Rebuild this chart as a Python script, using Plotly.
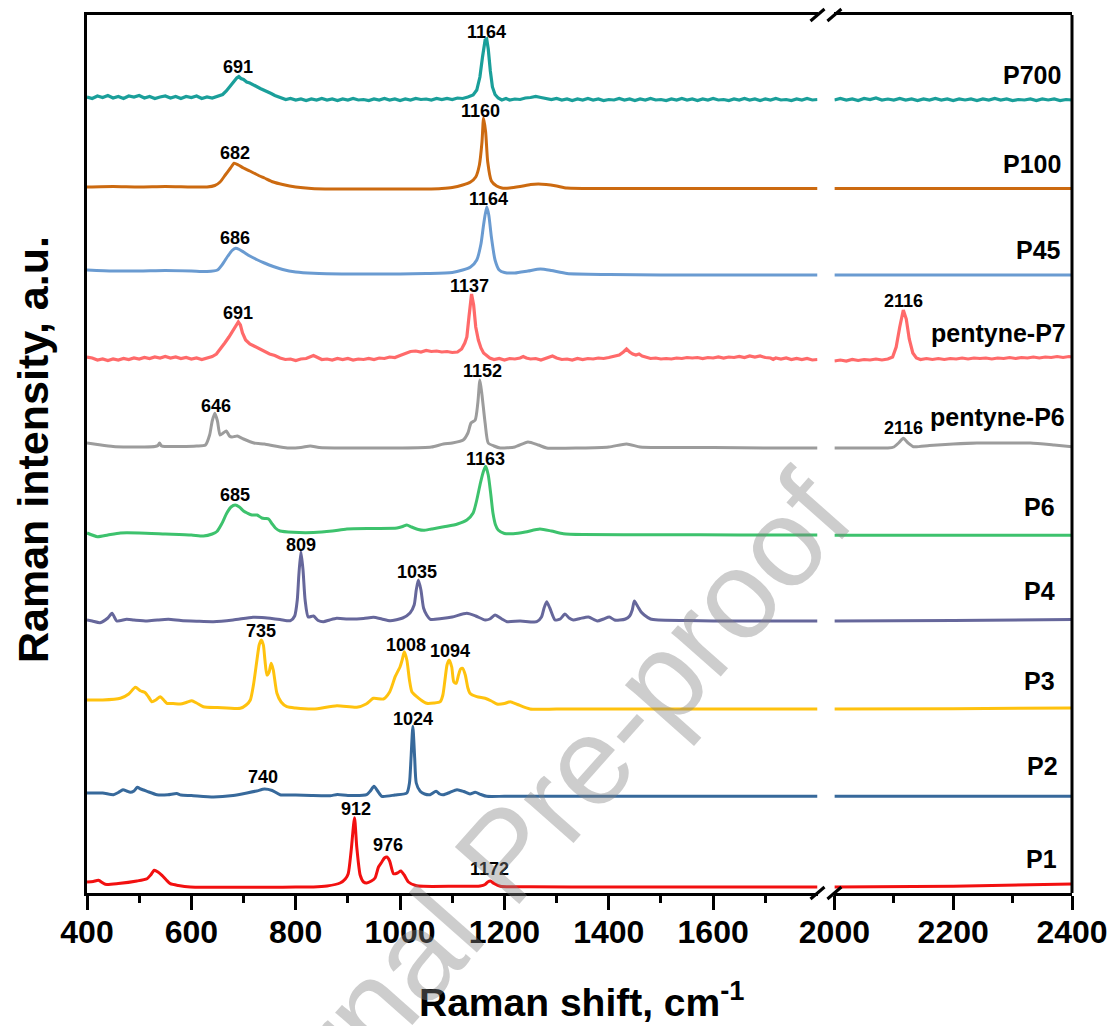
import plotly.graph_objects as go

# ---------------- data ----------------
series_names = ["P700", "P100", "P45", "pentyne-P7", "pentyne-P6", "P6", "P4", "P3", "P2", "P1"]
series_colors = ["#1A9F9A", "#CC6A10", "#6A9BD1", "#FF6A6A", "#9C9C9C", "#3DC26D", "#66679B", "#FFC20E", "#37699B", "#F21010"]
series_offsets = [796, 706, 623, 536, 450, 360, 273, 193, 100, 11]

p700_x = [400, 410, 420, 430, 440, 450, 460, 470, 480, 490, 500, 510, 520, 530, 540, 550, 560, 570, 580, 590,
          600, 610, 620, 630, 640, 650, 660, 667, 674, 681, 687, 691, 695, 700, 706, 712, 718, 725, 732, 739,
          746, 753, 760, 767, 774, 781, 790, 800, 810, 820, 830, 840, 850, 860, 870, 880, 890, 900, 910, 920,
          930, 940, 950, 960, 970, 980, 990, 1000, 1010, 1020, 1030, 1040, 1050, 1060, 1070, 1080, 1090, 1100, 1110, 1120,
          1130, 1140, 1147, 1153, 1158, 1163, 1166, 1169, 1173, 1177, 1182, 1188, 1195, 1203, 1210, 1220, 1230, 1240, 1250, 1260,
          1270, 1280, 1290, 1300, 1310, 1320, 1330, 1340, 1350, 1360, 1370, 1380, 1390, 1400, 1410, 1420, 1430, 1440, 1450, 1460,
          1470, 1480, 1490, 1500, 1510, 1520, 1530, 1540, 1550, 1560, 1570, 1580, 1590, 1600, 1610, 1620, 1630, 1640, 1650, 1660,
          1670, 1680, 1690, 1700, 1710, 1720, 1730, 1740, 1750, 1760, 1770, 1780, 1790, 1800,
          2000, 2010, 2020, 2030, 2040, 2050, 2060, 2070, 2080, 2090, 2100, 2110, 2120, 2130, 2140, 2150, 2160, 2170, 2180, 2190,
          2200, 2210, 2220, 2230, 2240, 2250, 2260, 2270, 2280, 2290, 2300, 2310, 2320, 2330, 2340, 2350, 2360, 2370, 2380, 2390, 2400]
p700_y = [0, -1.5, 1, -0.5, 1.5, -1, 0.5, -1.5, 1, 0, 1.5, -1, 0.5, -1.5, 0, 1, -1, 0.5, -1.5, 0.5,
          -0.5, 1, -1.5, 0, -1, 1, 2.5, 6, 11, 16, 19, 20.5, 18.5, 17.5, 15, 14, 12, 10.5, 8.5, 7,
          5, 3.5, 1.5, 0, -1, -2.5, -1.5, -3, -2, -3.5, -2, -3, -1.5, -3, -2, -3.5, -2, -3, -1.5, -3,
          -2.5, -3.5, -2, -3, -1.5, -3, -2, -3.5, -2, -3, -1.5, -2.5, -2, -3, -1.5, -2.5, -1.5, -2.5, -1, -1.5,
          0, 2, 7, 20, 40, 57, 58, 48, 26, 10, 2.5, -1, -3, -1.5, -3, -2, -2.5, -1, -0.5, 0.5,
          -0.5, -1.5, -2.5, -1.5, -3, -2, -3.5, -2, -3, -1.5, -3, -2, -3.5, -2.5, -3, -1.5, -3, -2, -3.5, -2,
          -3, -1.5, -3, -2.5, -3.5, -2, -3, -1.5, -3, -2, -3.5, -2, -3, -1.5, -3, -2.5, -3.5, -2, -3, -1.5,
          -3, -2, -3.5, -2, -3, -1.5, -3, -2.5, -3.5, -2, -3, -1.5, -3, -2.5,
          -3, -1.5, -3, -2, -3.5, -1.5, -2.5, -1, -3, -2, -3, -1.5, -3, -2, -3.5, -2, -3, -1.5, -3, -2,
          -3.5, -2, -3, -2, -3.5, -2, -3, -1.5, -3, -2, -3.5, -2.5, -3, -2, -3.5, -2, -3, -2, -3.5, -2.5, -3]

p100_x = [400, 450, 500, 550, 600, 630, 645, 655, 665, 675, 682, 690, 700, 712, 725, 740, 757, 775, 800, 830,
          870, 950, 1000, 1050, 1080, 1100, 1120, 1135, 1145, 1152, 1157, 1160, 1164, 1168, 1175, 1185, 1195, 1210, 1230, 1250,
          1265, 1280, 1300, 1320, 1400, 1500, 1600, 1700, 1800, 2000, 2100, 2200, 2300, 2400]
p100_y = [0, 0.5, 0, 0.5, 0, 0, 1.5, 5, 12, 19, 23.7, 22, 19, 16, 12.5, 9, 5, 2.5, 0, -1.5,
          -2, -2, -2, -2, -1.5, -0.5, 2, 5, 10, 22, 45, 69, 55, 25, 6, 1, -1, -1, 0.5, 2.5,
          3, 2.5, 1, -1, -1.5, -1.5, -1.5, -1.5, -1.5, -1.5, -1.5, -1.5, -1.5, -1.5]

p45_x = [400, 450, 500, 550, 600, 630, 650, 660, 670, 678, 685, 692, 700, 712, 725, 740, 757, 775, 800, 834,
         900, 1000, 1050, 1100, 1120, 1135, 1147, 1155, 1160, 1166, 1170, 1175, 1182, 1190, 1200, 1220, 1245, 1269, 1290, 1320,
         1400, 1500, 1600, 1700, 1800, 2000, 2100, 2200, 2300, 2400]
p45_y = [0, -1, -1, -0.5, -1, -1.5, 0, 6, 14, 19.5, 21.7, 20.5, 18, 14, 10.5, 7, 3.5, 0.5, -2, -3.3,
         -4, -4, -3.5, -2.5, 0, 3, 10, 26, 45, 63, 55, 33, 10, 0, -2.5, -3, -1, 1, -0.5, -3.5,
         -4.5, -5, -5, -5, -5, -5, -5, -5, -5, -5]

pentyne_p7_x = [400, 410, 420, 430, 440, 450, 460, 470, 480, 490, 500, 510, 520, 530, 540, 550, 560, 570, 580, 590,
                600, 610, 620, 630, 640, 648, 656, 664, 672, 680, 686, 690, 694, 698, 704, 712, 720, 730, 740, 750,
                760, 770, 780, 790, 800, 810, 820, 828, 834, 840, 850, 860, 870, 880, 890, 900, 910, 920, 930, 940,
                950, 960, 970, 980, 990, 1000, 1010, 1020, 1030, 1040, 1050, 1060, 1070, 1080, 1090, 1100, 1110, 1118, 1124, 1128,
                1132, 1137, 1141, 1145, 1150, 1155, 1160, 1166, 1172, 1180, 1190, 1200, 1210, 1220, 1230, 1236, 1242, 1250, 1260, 1270,
                1280, 1292, 1300, 1310, 1320, 1330, 1340, 1350, 1360, 1370, 1380, 1390, 1400, 1410, 1420, 1428, 1434, 1440, 1446, 1452,
                1458, 1464, 1472, 1480, 1490, 1500, 1510, 1520, 1530, 1540, 1550, 1560, 1570, 1580, 1590, 1600, 1610, 1620, 1630, 1640,
                1650, 1660, 1670, 1680, 1690, 1700, 1710, 1715, 1720, 1730, 1740, 1750, 1760, 1770, 1780, 1790, 1800,
                2000, 2010, 2020, 2030, 2040, 2050, 2060, 2070, 2080, 2090, 2098, 2104, 2110, 2116, 2121, 2126, 2132, 2138, 2145, 2155,
                2165, 2175, 2185, 2195, 2205, 2215, 2225, 2235, 2245, 2255, 2265, 2275, 2285, 2295, 2305, 2315, 2325, 2335, 2345, 2355,
                2365, 2375, 2385, 2395, 2400]
pentyne_p7_y = [0, -1, -3, -2, -3.5, -2, -3, -1.5, -2.5, -1, -2, -0.5, -1.5, 0, -1, 0.5, -1, 0, -1.5, -0.5,
                -2, -1, -2.5, -1, 0.5, 3, 8, 14, 20, 27, 33, 35, 32, 24, 17, 13, 11, 8.5, 6, 3,
                1.5, -1, -2.5, -2, -3.5, -2, -1.5, 0, 1.5, 0, -2.5, -2, -3, -1.5, -2.5, -1.5, -3, -2, -2.5, -1.5,
                -2.5, -1, -1.5, 0, -0.5, 1.5, 3.5, 5.5, 6, 5, 6.5, 5.5, 6, 5, 5.5, 4.5, 5, 8, 14, 20,
                40, 63, 52, 30, 17, 9, 4, 1, -1, -2.5, -1.5, -3, -1.5, -2, -1, 0.5, -1, -2, -1.5, -3,
                -1.5, 1, -1, -2.5, -2, -3, -1.5, -2.5, -1.5, -2, -1, -1.5, -0.5, 0.5, 2, 5, 8, 5, 3, 2,
                3, 1, -0.5, -1.5, -1, -2, -1.5, -2, -1, -1.5, -0.5, -1, -0.5, -1.5, -0.5, -1, 0, -1, 0, -0.5,
                0.5, -0.5, 1, 0, 1, -0.5, -1, -2.5, -1, -2, -1, -2.5, -1.5, -2.5, -1.5, -3, -2.5,
                -4, -3, -4, -2.5, -3.5, -2.5, -3, -2, -3, -2, 0, 10, 30, 47, 38, 18, 4, -1, -2.5, -1.5,
                -2.5, -1.5, -2.5, -1.5, -2, -1, -2, -1, -1.5, -1, -2, -1, -1.5, -0.5, -1.5, -0.5, -1, 0, -1, 0,
                -0.5, 0.5, -0.5, 0.5, 0]

pentyne_p6_x = [400, 420, 450, 480, 510, 530, 536, 539, 543, 550, 580, 610, 627, 635, 640, 645, 650, 655, 661, 667,
                673, 678, 683, 688, 700, 720, 740, 760, 784, 810, 828, 845, 900, 1000, 1060, 1083, 1100, 1121, 1130, 1136,
                1144, 1149, 1153, 1157, 1163, 1169, 1180, 1192, 1220, 1245, 1265, 1281, 1345, 1400, 1434, 1460, 1500, 1600, 1700, 1800,
                2000, 2050, 2090, 2100, 2108, 2116, 2124, 2133, 2160, 2200, 2240, 2300, 2330, 2370, 2400]
pentyne_p6_y = [0, -1.5, -3.5, -4, -4, -3.5, -2.5, 0, -3, -3.5, -3.5, -3, -2, 8, 22, 29.7, 22, 8, 10, 12,
                7, 6, 6.5, 7, 4, 0, -1, -3, -5, -4.5, -3, -4.5, -5, -5, -4, -1, 0, 3, 10, 20,
                23, 40, 63, 48, 20, 0, -3, -5, -4, 1, -2, -5, -5, -4, -1, -4, -4.5, -4.5, -5, -5,
                -5, -5, -5, -4, 0, 4.7, 0, -3.7, -2.5, -1, 0, 0, 0, -2, -3.7]

p6_x = [400, 420, 440, 464, 500, 550, 600, 623, 640, 649, 658, 668, 676, 684, 692, 700, 707, 716, 726, 735,
        742, 748, 755, 761, 770, 795, 834, 870, 898, 950, 994, 1005, 1013, 1022, 1035, 1045, 1060, 1090, 1110, 1128,
        1140, 1147, 1154, 1160, 1164, 1169, 1174, 1178, 1183, 1188, 1200, 1217, 1240, 1268, 1290, 1313, 1350, 1500, 1650, 1800,
        2000, 2200, 2400]
p6_y = [0, -3.7, -2, 0, 0, -1, -2, -3, -1, 1.5, 9, 20, 26, 28, 26, 22, 20, 18, 18, 15,
        14.5, 14, 9, 5, 2, 0.7, 0.5, 2, 4, 4.5, 5, 6.5, 8, 6, 3.5, 2.7, 4, 6.7, 9, 13,
        20, 33, 50, 62, 66.7, 58, 38, 20, 8, 3, -0.5, -0.7, 1, 4, 2, -0.7, -1.5, -1.7, -2, -2,
        -2.3, -2.3, -2.3]

p4_x = [400, 410, 425, 440, 448, 457, 476, 490, 515, 535, 556, 580, 610, 642, 680, 718, 735, 751, 770, 790,
        798, 803, 806, 810, 814, 818, 824, 834, 843, 853, 865, 878.5, 900, 930, 949, 965, 981, 1005, 1019, 1027,
        1031, 1035, 1040, 1045, 1051, 1058, 1080, 1100, 1128, 1145, 1163, 1172, 1182, 1195, 1205, 1230, 1262, 1271, 1276, 1281,
        1287, 1297, 1307, 1316, 1324, 1332, 1345, 1361, 1378, 1390, 1401, 1411, 1421, 1432, 1440, 1445, 1449, 1455, 1462, 1468,
        1480, 1495, 1550, 1600, 1700, 1800, 2000, 2200, 2400]
p4_y = [0, -1, -2.7, 2, 6.7, -1, 0.7, 0, -1, 0, 0.7, -0.5, -1.2, -1.7, 0, 2.7, 2.5, 1.7, 0.5, -0.7,
        4, 20, 45, 68.3, 50, 20, 3, 4, -0.5, -1.7, 0, 1.7, 1, 1.5, 2.7, 1, -0.7, 2, 7, 15,
        30, 40, 30, 12, 5, 0.7, 1.5, 3, 6.7, 4, 0, 1, 5, 1, -1.7, -1, -1.7, 3, 12, 18.3,
        12, 0, 1, 6, 2, 0, 1.5, 3, -1, 1, 3, 0, 0, 1, 4, 10, 19, 14, 8, 5,
        1, 0, -0.5, -1, -1, -1, -1, -0.5, 0.5]

p3_x = [400, 430, 464, 480, 492.7, 502, 511.7, 518, 524.5, 532, 540.4, 547, 553, 565, 578.7, 590, 601, 610, 623, 650,
        693.7, 705, 713, 719, 725.7, 730, 734, 738, 741, 744.8, 749, 753, 757, 764, 772, 783, 800, 834, 879, 917,
        935, 949, 968, 980, 990.6, 1000, 1004, 1008, 1013, 1018, 1022.6, 1032, 1040, 1051, 1065, 1077, 1082, 1086, 1090, 1094,
        1099, 1103, 1107.5, 1112, 1116, 1120, 1125, 1130, 1134, 1147, 1163, 1175, 1185.5, 1200, 1211, 1225, 1249, 1300, 1400, 1500,
        1600, 1700, 1800, 2000, 2200, 2400]
p3_y = [0, 0, 1.7, 6, 12.7, 9.3, 7.3, 3, -1.7, 0, 3.3, 0, -3.3, -3.5, -4, -2.5, -0.7, -3, -6.7, -7.5,
        -8.3, -5, 0, 15, 40, 55, 60, 55, 40, 25, 28, 36.7, 30, 6.7, -2, -6.7, -8, -9, -5.7, -7.3,
        -4, 1.7, 1, 8, 23.3, 33.3, 40, 48.3, 40, 20, 8.3, 3.3, 0, -3.3, -3, -1.7, 5, 20, 35, 40,
        33, 18, 16.7, 25, 31, 31.7, 25, 12, 6.7, 3.3, 1.7, -1, -4, -3.5, -1.7, -4.5, -9, -9, -9, -9,
        -9, -9, -9, -9, -8.7, -8]

p2_x = [400, 430, 450.6, 460, 469, 476, 483, 490, 496.4, 503, 515, 534, 555, 572, 580, 600, 642.5, 680, 706.5, 725,
        740, 755, 770, 800, 830, 866, 880, 900, 936, 943, 950, 957, 965, 990, 1013, 1018, 1021, 1024.5, 1028, 1031,
        1038.5, 1047, 1057.6, 1069, 1076, 1083, 1095, 1109, 1122, 1134, 1144, 1155, 1166, 1200, 1300, 1400, 1500, 1600, 1700, 1800,
        2000, 2200, 2400]
p2_y = [0, 0, -1.7, 0.5, 3.3, 2, 0.7, 2, 5.7, 4, 1.7, -1.7, -1.7, -0.5, -2, -2.5, -4, -2.5, 0, 2,
        4, 2.5, -1.7, -2, -2.5, -2.7, -1.5, -2.5, -1.7, 2, 6.7, 2, -3.3, -2, 0, 10, 35, 66.7, 35, 10,
        1.7, -1, -1.7, 1.7, -1, -1.7, 0.5, 3.3, 1.5, -1, 0.7, -1.5, -3.3, -3.3, -3.3, -3.3, -3.3, -3.3, -3.3, -3.3,
        -3.3, -3.3, -3.3]

p1_x = [400, 412, 422, 435, 460, 495.8, 515, 522, 529, 536, 543.7, 552, 559.6, 575, 598, 650, 700, 750, 800, 834,
        860, 885, 895, 900.6, 906, 912.7, 917, 923.6, 930, 936, 945, 952, 958.6, 965, 970, 974.7, 980, 987.4, 995, 1001.5,
        1008, 1016, 1030, 1045, 1100, 1153.5, 1163, 1168, 1173, 1180, 1192, 1250, 1400, 1600, 1800,
        2000, 2200, 2400]
p1_y = [0, 0.5, 1.7, -2.3, -1.5, 1, 3.3, 7, 11.7, 10, 6.7, 2, -1.7, -3.5, -5, -5.3, -5.3, -5.3, -5, -5,
        -4, -1, 3, 8.3, 30, 64.3, 35, 6.7, 0, -1, 1, 4, 15, 20, 24, 25, 21, 8.3, 9, 11,
        7, 0, -3.5, -4.3, -4.3, -4, -2.5, 0, 1, -1.5, -4.3, -4.8, -5, -5, -5,
        -5, -4.3, -2]

series_x = [p700_x, p100_x, p45_x, pentyne_p7_x, pentyne_p6_x, p6_x, p4_x, p3_x, p2_x, p1_x]
series_y = [p700_y, p100_y, p45_y, pentyne_p7_y, pentyne_p6_y, p6_y, p4_y, p3_y, p2_y, p1_y]
noisy_series = ["P700", "pentyne-P7"]

# peak labels: text, position (cm-1), height (a.u.), panel
peak_text = ["691", "1164", "682", "1160", "686", "1164", "691", "1137", "2116", "646", "1152", "2116",
             "685", "1163", "809", "1035", "735", "1008", "1094", "740", "1024", "912", "976", "1172"]
peak_x = [690, 1166, 684, 1155, 684, 1169, 690, 1134, 2117, 647, 1158, 2117,
          684, 1163, 811, 1033, 733, 1011, 1096, 738, 1025, 915, 977, 1171]
peak_y = [826, 861, 740, 782, 655, 694, 580, 607, 592, 487, 522, 465,
          398, 434, 348, 321, 262, 248, 242, 116, 174, 84, 48, 24]
peak_panel = [1, 1, 1, 1, 1, 1, 1, 1, 2, 1, 1, 2, 1, 1, 1, 1, 1, 1, 1, 1, 1, 1, 1, 1]

# sample name labels (right panel, right aligned)
name_label_x = [2385, 2385, 2385, 2393, 2391, 2375, 2375, 2375, 2380, 2378]
name_label_y = [818, 729, 643, 560, 476, 386, 302, 212, 127, 34]

x_major_left = [400, 600, 800, 1000, 1200, 1400, 1600]
x_minor_left = [500, 700, 900, 1100, 1300, 1500, 1700]
x_major_right = [2000, 2200, 2400]
x_minor_right = [2100, 2300]

for xs, ys in zip(series_x, series_y):
    assert len(xs) == len(ys), (len(xs), len(ys))

# ---------------- figure ----------------
W, H = 1109, 1026
ML, MR, MT, MB = 87, 37, 15, 133
PW, PH = W - ML - MR, H - MT - MB
left_end = 730.5 / PW
right_start = 747.4 / PW

fig = go.Figure()
for name, color, off, xs, ys in zip(series_names, series_colors, series_offsets, series_x, series_y):
    smooth = name not in noisy_series
    if smooth:
        line = dict(color=color, width=3, shape="spline", smoothing=0.6)
    else:
        line = dict(color=color, width=3.2, shape="linear")
    lx = [x for x in xs if x <= 1800]
    ly = [off + y for x, y in zip(xs, ys) if x <= 1800]
    rx = [x for x in xs if x >= 2000]
    ry = [off + y for x, y in zip(xs, ys) if x >= 2000]
    fig.add_trace(go.Scatter(x=lx, y=ly, mode="lines", line=line, xaxis="x", yaxis="y",
                             hoverinfo="skip", name=name))
    fig.add_trace(go.Scatter(x=rx, y=ry, mode="lines", line=line, xaxis="x2", yaxis="y",
                             hoverinfo="skip", name=name))

tick_font = dict(family="Liberation Sans, Arial", size=32, color="black")
axis_common = dict(showline=True, linewidth=3, linecolor="black", mirror=True, showgrid=False,
                   zeroline=False, ticks="outside", ticklen=14, tickwidth=3, tickcolor="black",
                   tickfont=tick_font, tickmode="array", automargin=False, ticklabelstandoff=-5)

fig.update_layout(
    width=W, height=H,
    margin=dict(l=ML, r=MR, t=MT, b=MB),
    paper_bgcolor="white", plot_bgcolor="white",
    showlegend=False,
    xaxis=dict(domain=[0, left_end], range=[400, 1800], anchor="y",
               tickvals=x_major_left, ticktext=[f"<b>{v}</b>" for v in x_major_left],
               minor=dict(tickmode="array", tickvals=x_minor_left, ticks="outside",
                          ticklen=7, tickwidth=3, tickcolor="black"),
               **axis_common),
    xaxis2=dict(domain=[right_start, 1], range=[2000, 2400], anchor="y",
                tickvals=x_major_right, ticktext=[f"<b>{v}</b>" for v in x_major_right],
                minor=dict(tickmode="array", tickvals=x_minor_right, ticks="outside",
                           ticklen=7, tickwidth=3, tickcolor="black"),
                **axis_common),
    yaxis=dict(domain=[0, 1], range=[0, 878], anchor="x", showline=True, linewidth=3,
               linecolor="black", showticklabels=False, ticks="", showgrid=False, zeroline=False),
)

shapes = [dict(type="line", xref="paper", yref="paper", x0=1, x1=1, y0=0, y1=1,
               line=dict(color="black", width=3))]
dx, dy = 7 / PW, 6 / PH
for yp in (0, 1):
    for xp in (left_end, right_start):
        shapes.append(dict(type="line", xref="paper", yref="paper",
                           x0=xp - dx, y0=yp - dy, x1=xp + dx, y1=yp + dy,
                           line=dict(color="black", width=3)))
fig.update_layout(shapes=shapes)

ann = []
lab_font = dict(family="Liberation Sans, Arial", size=18, color="black")
for t, x, y, p in zip(peak_text, peak_x, peak_y, peak_panel):
    ann.append(dict(text=f"<b>{t}</b>", x=x, y=y, xref="x" if p == 1 else "x2", yref="y",
                    showarrow=False, font=lab_font, xanchor="center", yanchor="middle"))
name_font = dict(family="Liberation Sans, Arial", size=25, color="black")
for t, x, y in zip(series_names, name_label_x, name_label_y):
    ann.append(dict(text=f"<b>{t}</b>", x=x, y=y, xref="x2", yref="y", showarrow=False,
                    font=name_font, xanchor="right", yanchor="middle"))
# axis titles
ann.append(dict(text="<b>Raman shift, cm<sup>-1</sup></b>", x=(582 - ML) / PW, y=(893 - 1000) / PH,
                xref="paper", yref="paper", showarrow=False, xanchor="center", yanchor="middle",
                font=dict(family="Liberation Sans, Arial", size=39, color="black")))
ann.append(dict(text="<b>Raman intensity, a.u.</b>", x=(33 - ML) / PW, y=(893 - 450) / PH,
                xref="paper", yref="paper", showarrow=False, xanchor="center", yanchor="middle",
                textangle=-90, font=dict(family="Liberation Sans, Arial", size=43, color="black")))
# watermark
ann.append(dict(text="Journal Pre-proof", x=(505 - ML) / PW, y=(893 - 854) / PH,
                xref="paper", yref="paper", showarrow=False, xanchor="center", yanchor="middle",
                textangle=-48.5, font=dict(family="Liberation Sans, Arial", size=125,
                                           color="rgba(130,130,130,0.4)")))
fig.update_layout(annotations=ann)

fig.write_html("out.html", config={"displayModeBar": False},
               post_script="document.body.style.margin='0px';")
